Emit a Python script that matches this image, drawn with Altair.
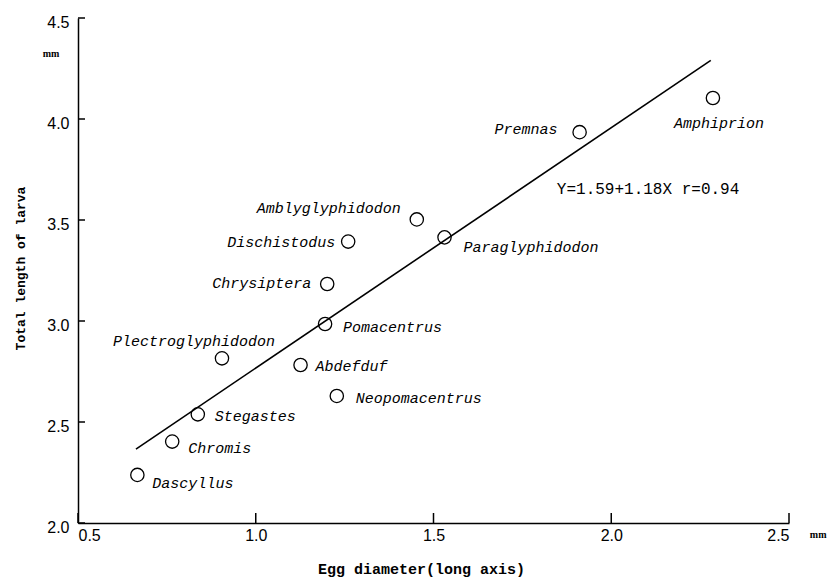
import altair as alt
import pandas as pd

# ---- data ----
genera = ["Dascyllus", "Chromis", "Stegastes", "Plectroglyphidodon", "Abdefduf",
          "Neopomacentrus", "Pomacentrus", "Chrysiptera", "Dischistodus",
          "Amblyglyphidodon", "Paraglyphidodon", "Premnas", "Amphiprion"]
egg_diameter = [0.667, 0.765, 0.837, 0.905, 1.126, 1.228, 1.195, 1.201, 1.260,
                1.453, 1.531, 1.911, 2.286]
larva_length = [2.238, 2.403, 2.538, 2.815, 2.782, 2.629, 2.985, 3.183, 3.393,
                3.503, 3.414, 3.935, 4.104]

line_x = [0.663, 2.28]
line_y = [2.366, 4.29]

x_ticks = [0.5, 1.0, 1.5, 2.0, 2.5]
y_ticks = [2.0, 2.5, 3.0, 3.5, 4.0, 4.5]

equation = "Y=1.59+1.18X  r=0.94"
eq_pos = [1.847, 3.653]

# label placement (style): align, dx, dy
label_style = {
    "Dascyllus": ("left", 15, 8),
    "Chromis": ("left", 16, 6),
    "Stegastes": ("left", 17, 2),
    "Plectroglyphidodon": ("center", -28, -17),
    "Abdefduf": ("left", 15, 1),
    "Neopomacentrus": ("left", 19, 2),
    "Pomacentrus": ("left", 18, 3),
    "Chrysiptera": ("right", -16, -1),
    "Dischistodus": ("right", -13, 0),
    "Amblyglyphidodon": ("right", -16, -11),
    "Paraglyphidodon": ("left", 19, 10),
    "Premnas": ("right", -22, -3),
    "Amphiprion": ("center", 6, 25),
}

W, H = 711, 505

df = pd.DataFrame({"genus": genera, "x": egg_diameter, "y": larva_length})
line_df = pd.DataFrame({"x": line_x, "y": line_y})

xs = alt.Scale(domain=[0.5, 2.5], nice=False, zero=False)
ys = alt.Scale(domain=[2.0, 4.5], nice=False, zero=False)

X = alt.X("x:Q", scale=xs, axis=alt.Axis(
    values=x_ticks, format=".1f", title="Egg diameter(long axis)", grid=False,
    ticks=False, domainColor="black", domainWidth=1.5,
    labelFont="Liberation Sans", labelFontSize=16, labelColor="black", labelPadding=4,
    titleFont="Liberation Mono", titleFontSize=15, titleFontWeight="bold", titleColor="black",
    titleX=343, titleY=45, titleAnchor="start", titleAlign="center", titleBaseline="middle"))
Y = alt.Y("y:Q", scale=ys, axis=alt.Axis(
    values=y_ticks, format=".1f", title="Total length of larva", grid=False,
    ticks=False, domainColor="black", domainWidth=1.5,
    labelFont="Liberation Sans", labelFontSize=16, labelColor="black", labelPadding=9,
    labelOffset=4,
    titleFont="Liberation Mono", titleFontSize=13, titleFontWeight="bold", titleColor="black",
    titleX=-58, titleY=250, titleAlign="center", titleBaseline="middle", titleAngle=-90))

base = alt.Chart(df)

points = base.mark_point(shape="circle", size=177, filled=False, color="black",
                         strokeWidth=1.3, opacity=1).encode(x=X, y=Y)

reg = alt.Chart(line_df).mark_line(color="black", strokeWidth=1.6).encode(
    x=alt.X("x:Q", scale=xs), y=alt.Y("y:Q", scale=ys))

labels = []
for g in genera:
    a, dx, dy = label_style[g]
    labels.append(
        base.transform_filter(alt.datum.genus == g).mark_text(
            align=a, baseline="middle", dx=dx, dy=dy, font="Liberation Mono",
            fontStyle="italic", fontSize=15, color="black").encode(
            x=alt.X("x:Q", scale=xs), y=alt.Y("y:Q", scale=ys), text="genus:N"))

eq = alt.Chart(pd.DataFrame({"x": [eq_pos[0]], "y": [eq_pos[1]], "t": [equation]})).mark_text(
    align="left", baseline="middle", font="Liberation Mono", fontSize=16, color="black").encode(
    x=alt.X("x:Q", scale=xs), y=alt.Y("y:Q", scale=ys), text="t:N")

unit_df = pd.DataFrame({"x": [0.424, 2.582], "y": [4.322, 1.94], "t": ["mm", "mm"]})
units = alt.Chart(unit_df).mark_text(
    align="center", baseline="middle", font="Liberation Serif", fontSize=10,
    fontWeight="bold", color="black", clip=False).encode(
    x=alt.X("x:Q", scale=xs), y=alt.Y("y:Q", scale=ys), text="t:N")

ytick = alt.Chart(pd.DataFrame({"t": y_ticks})).mark_rule(color="black", strokeWidth=1.5).encode(
    y=alt.Y("t:Q", scale=ys), x=alt.value(0), x2=alt.value(7))
xtick = alt.Chart(pd.DataFrame({"t": x_ticks})).mark_rule(color="black", strokeWidth=1.5).encode(
    x=alt.X("t:Q", scale=xs), y=alt.value(H), y2=alt.value(H - 10))

chart = alt.layer(points, reg, ytick, xtick, eq, units, *labels).properties(
    width=W, height=H,
    background="white",
    autosize=alt.AutoSizeParams(type="none"),
    padding={"left": 70, "top": 10, "right": 40, "bottom": 54},
).configure_view(strokeWidth=0, stroke="transparent")

chart.save("out.html", embed_options={"renderer": "svg", "actions": False})
